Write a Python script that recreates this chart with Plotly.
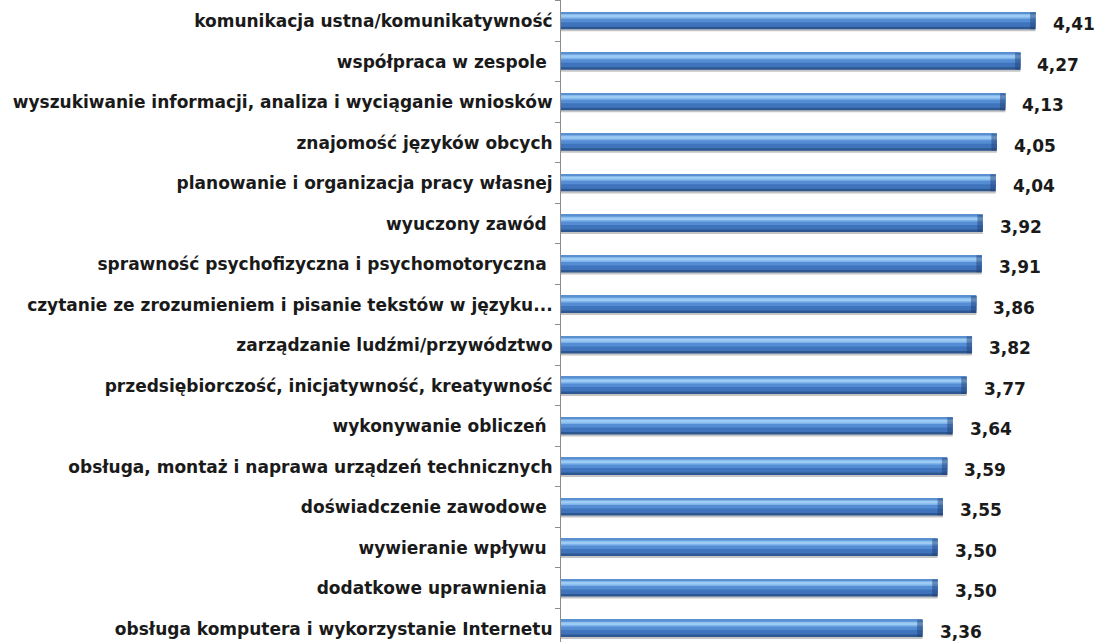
import plotly.graph_objects as go

# Ratings of skills, top to bottom
categories = [
    "komunikacja ustna/komunikatywność",
    "współpraca w zespole\u00a0",
    "wyszukiwanie informacji, analiza i wyciąganie wniosków",
    "znajomość języków obcych",
    "planowanie i organizacja pracy własnej",
    "wyuczony zawód\u00a0",
    "sprawność psychofizyczna i psychomotoryczna\u00a0",
    "czytanie ze zrozumieniem i pisanie tekstów w języku...",
    "zarządzanie ludźmi/przywództwo",
    "przedsiębiorczość, inicjatywność, kreatywność",
    "wykonywanie obliczeń\u00a0",
    "obsługa, montaż i naprawa urządzeń technicznych",
    "doświadczenie zawodowe\u00a0",
    "wywieranie wpływu\u00a0",
    "dodatkowe uprawnienia\u00a0",
    "obsługa komputera i wykorzystanie Internetu",
]
values = [4.41, 4.27, 4.13, 4.05, 4.04, 3.92, 3.91, 3.86,
          3.82, 3.77, 3.64, 3.59, 3.55, 3.50, 3.50, 3.36]
value_labels = [f"{v:.2f}".replace(".", ",") for v in values]

PX = 40.5            # pixels per category row
H = 17 / PX          # bar thickness in category units
TOP = -0.215         # bar top relative to category centre

# (offset from bar top in px, thickness in px, colour) – layered to give a glossy cylinder look
layers = [
    (2.0, 17.0, "#c4c4c4"),   # soft shadow
    (0.0, 17.0, "#2d5791"),   # dark lower edge
    (0.0, 14.5, "#3f74bd"),
    (0.0, 10.0, "#558dd4"),
    (1.5, 5.0, "#7fb3ea"),
    (2.5, 2.5, "#9ccbf4"),    # highlight stripe
    (0.0, 1.2, "#5a8fd0"),    # thin top rim
]

fig = go.Figure()
for off_px, h_px, col in layers:
    fig.add_trace(go.Bar(
        y=categories, x=values, orientation="h",
        width=h_px / PX, offset=TOP + off_px / PX,
        marker=dict(color=col, line=dict(width=0)),
        hoverinfo="skip", showlegend=False,
    ))

# darker bevel at the right-hand end of every bar
fig.add_trace(go.Bar(
    y=categories, x=[0.05] * len(values), base=[v - 0.05 for v in values],
    orientation="h", width=H, offset=TOP,
    marker=dict(color="rgba(30,60,110,0.45)", line=dict(width=0)),
    hoverinfo="skip", showlegend=False,
))

for cat, v, lab in zip(categories, values, value_labels):
    fig.add_annotation(
        x=v, y=cat, text=lab, showarrow=False,
        xanchor="left", yanchor="middle", xshift=15, yshift=-3,
        font=dict(family="DejaVu Sans", size=17, color="#1a1a1a", weight="bold"),
    )

fig.update_layout(
    width=1102, height=642,
    margin=dict(l=561, r=3, t=0, b=0),
    barmode="overlay",
    plot_bgcolor="white", paper_bgcolor="white",
    xaxis=dict(range=[0, 5], visible=False, fixedrange=True),
    yaxis=dict(
        type="category",
        categoryorder="array", categoryarray=categories,
        range=[15.33, -0.52],
        showline=True, linecolor="#8c8c8c", linewidth=1,
        ticks="outside", tickson="boundaries", ticklen=5, tickcolor="#8c8c8c",
        ticklabelstandoff=4,
        showgrid=False, zeroline=False,
        tickfont=dict(family="DejaVu Sans", size=17, color="#1a1a1a", weight="bold"),
    ),
)

fig.write_html("out.html")
